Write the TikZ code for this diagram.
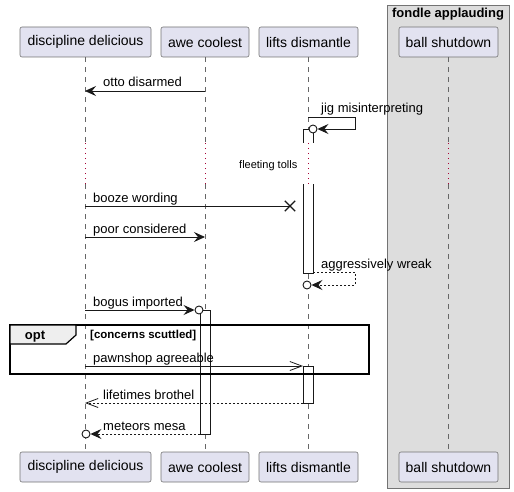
\documentclass[tikz,border=0pt]{standalone}
\usepackage{fontspec}
\setmainfont{Liberation Sans}
\usetikzlibrary{arrows.meta,shapes.misc}

\definecolor{partfill}{HTML}{E2E2F0}
\definecolor{boxfill}{HTML}{DDDDDD}
\definecolor{tabfill}{HTML}{EEEEEE}
\definecolor{delaycol}{HTML}{A80036}

\begin{document}
\begin{tikzpicture}[
  x=1pt, y=-1pt,
  actor/.style={
    draw=black!55, fill=partfill, line width=0.6pt,
    rounded corners=2pt, minimum height=30pt, inner sep=0pt,
    font=\fontsize{14}{16}\selectfont,
  },
  life/.style={draw=black!60, line width=0.6pt, dash pattern=on 5pt off 5pt},
  delayline/.style={draw=delaycol, line width=1pt, dash pattern=on 1pt off 4pt},
  actbar/.style={draw=black!90, fill=white, line width=0.8pt},
  msg/.style={draw=black!90, line width=0.9pt, -{Stealth[length=11pt,width=10pt,inset=4pt]}},
  amsg/.style={draw=black!90, line width=0.8pt, -{Straight Barb[length=12pt,width=9pt]}},
  ret/.style={dash pattern=on 2pt off 2pt},
  lbl/.style={anchor=base west, inner sep=0pt, font=\fontsize{13}{15}\selectfont},
  endo/.style={circle, draw=black!90, fill=white, line width=0.9pt,
    minimum size=8pt, inner sep=0pt},
]
\useasboundingbox (0,0) rectangle (514,492);

% box round ball shutdown
\draw[fill=boxfill, draw=black!55, line width=0.8pt] (387,5) rectangle (509,488);
\node[font=\bfseries\fontsize{13}{15}\selectfont, anchor=base] (boxttl) at (448,18) {fondle applauding};

% participants, top and bottom
\foreach \n/\x/\w/\t in {dd/85.5/131/discipline delicious,ac/205/88/awe coolest,ld/308.5/99/lifts dismantle,bs/448.5/99/ball shutdown} {
  \node[actor, minimum width=\w pt] (\n-top) at (\x,42) {\t};
  \node[actor, minimum width=\w pt] (\n-bot) at (\x,467) {\t};
}

% lifelines with the delay
\coordinate (dtop) at (0,143);
\coordinate (dbot) at (0,184);
\foreach \n in {dd,ac,ld,bs} {
  \draw[life] (\n-top.south) -- (\n-top.south |- dtop);
  \draw[delayline] (\n-top.south |- dtop) -- (\n-top.south |- dbot);
  \draw[life] (\n-top.south |- dbot) -- (\n-bot.north);
}
\node[font=\fontsize{11}{13}\selectfont, anchor=base west, inner sep=0pt] (delay) at (239,168) {fleeting tolls};

% activations
\fill[white] (303,129) rectangle (313,273);
\draw[actbar] (303,143) -- (303,129) -- (313,129) -- (313,143);
\draw[actbar] (303,184) -- (303,273) -- (313,273) -- (313,184);
\draw[delayline] (ld-top.south |- dtop) -- (ld-top.south |- dbot);
\draw[actbar] (200,310) rectangle (210,434);
\draw[actbar] (303,366) rectangle (313,403);

% opt fragment
\draw[line width=1.5pt] (10,325) rectangle (369,374);
\draw[fill=tabfill, line width=1.2pt] (10,325) -- (76,325) -- (76,335) -- (66,344) -- (10,344) -- cycle;
\node[font=\bfseries\fontsize{13}{15}\selectfont, anchor=base] (optlbl) at (35,339) {opt};
\node[font=\bfseries\fontsize{11.5}{13}\selectfont, anchor=base west, inner sep=0pt] (guard) at (90,338) {[concerns scuttled]};

% end points on the lifelines
\coordinate (p1a) at (205,91);   \coordinate (p1b) at (85,91);
\coordinate (p2a) at (308,117);
\coordinate (p3a) at (85,206);
\coordinate (p4a) at (85,237);   \coordinate (p4b) at (205,237);
\coordinate (p5a) at (313,272);
\coordinate (p6a) at (85,310);
\coordinate (p7a) at (85,366);   \coordinate (p7b) at (303,366);
\coordinate (p8a) at (303,403);  \coordinate (p8b) at (85,403);
\coordinate (p9a) at (200,434);

% end marks
\node[endo] (c2) at (313,129) {};
\node[draw=black!90, cross out, line width=1.4pt, minimum size=9pt, inner sep=0pt] (x3) at (290,206) {};
\node[endo] (c5) at (307,285) {};
\node[endo] (c6) at (199,310) {};
\node[endo] (c9) at (86,434) {};

% messages
\draw[msg] (p1a) -- (p1b);
\node[lbl] (l1) at (103,87) {otto disarmed};

\draw[msg] (p2a) -- (355,117) -- (355,129) -- (c2.east);
\node[lbl] (l2) at (321,113) {jig misinterpreting};

\draw[draw=black!90, line width=0.9pt] (p3a) -- (x3.center);
\node[lbl] (l3) at (93,202) {booze wording};

\draw[msg] (p4a) -- (p4b);
\node[lbl] (l4) at (93,233) {poor considered};

\draw[msg, ret] (p5a) -- (355,272) -- (355,285) -- (c5.east);
\node[lbl] (l5) at (321,268) {aggressively wreak};

\draw[msg] (p6a) -- (c6.west);
\node[lbl] (l6) at (93,306) {bogus imported};

\draw[amsg] (p7a) -- (p7b);
\node[lbl] (l7) at (93,362) {pawnshop agreeable};

\draw[amsg, ret] (p8a) -- (p8b);
\node[lbl] (l8) at (103,399) {lifetimes brothel};

\draw[msg, ret] (p9a) -- (c9.east);
\node[lbl] (l9) at (103,430) {meteors mesa};

\end{tikzpicture}
\end{document}
